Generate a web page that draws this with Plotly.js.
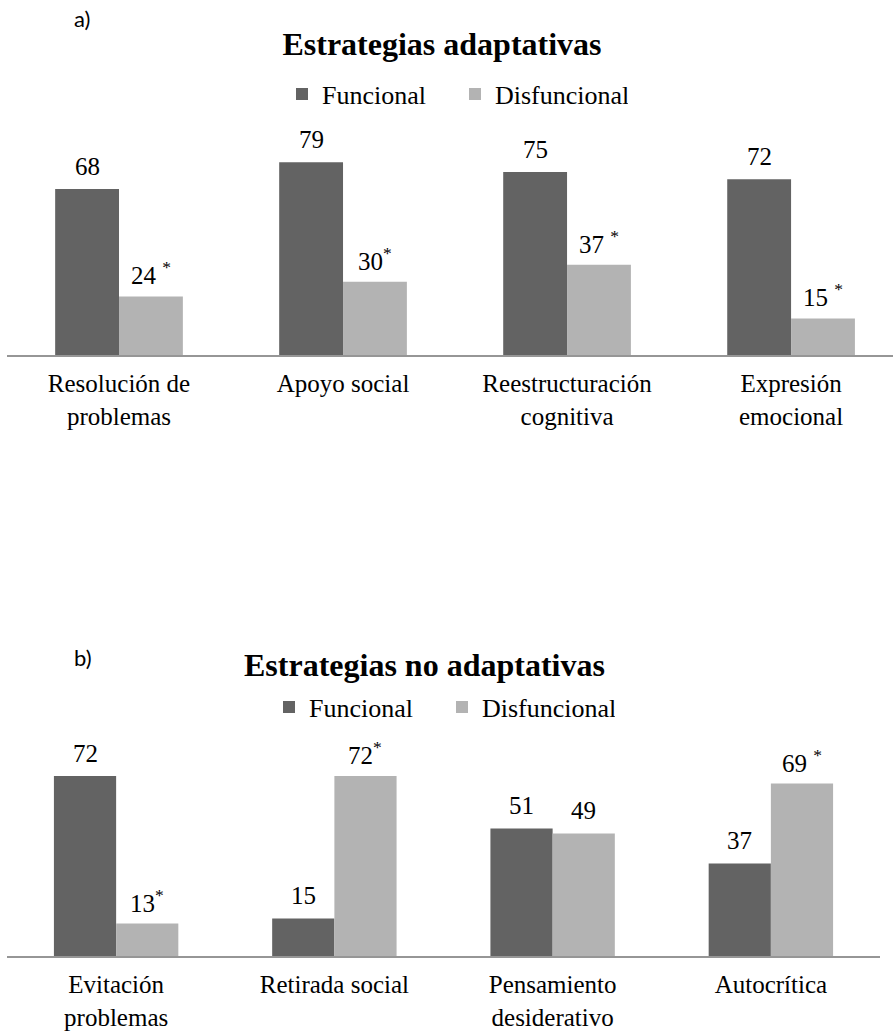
<!DOCTYPE html>
<html>
<head>
<meta charset="utf-8">
<script src="https://cdn.plot.ly/plotly-3.0.1.min.js"></script>
<style>
  html, body { margin: 0; padding: 0; background: #fff; }
  #chart { width: 893px; height: 1031px; }
</style>
</head>
<body>
<div id="chart"></div>
<script>
// ---- Data ----
const seriesNames = ['Funcional', 'Disfuncional'];

const categoriesA = ['Resolución de problemas', 'Apoyo social', 'Reestructuración cognitiva', 'Expresión emocional'];
const tickLabelsA = ['Resolución de<br>problemas', 'Apoyo social', 'Reestructuración<br>cognitiva', 'Expresión<br>emocional'];
const funcionalA = [68, 79, 75, 72];
const disfuncionalA = [24, 30, 37, 15];
const labelsFuncionalA = ['68', '79', '75', '72'];
const labelsDisfuncionalA = ['24 <sup>*</sup>', '30<sup>*</sup>', '37 <sup>*</sup>', '15 <sup>*</sup>'];

const categoriesB = ['Evitación problemas', 'Retirada social', 'Pensamiento desiderativo', 'Autocrítica'];
const tickLabelsB = ['Evitación<br>problemas', 'Retirada social', 'Pensamiento<br>desiderativo', 'Autocrítica'];
const funcionalB = [72, 15, 51, 37];
const disfuncionalB = [13, 72, 49, 69];
const labelsFuncionalB = ['72', '15', '51', '37'];
const labelsDisfuncionalB = ['13<sup>*</sup>', '72<sup>*</sup>', '49', '69 <sup>*</sup>'];

const titleA = 'Estrategias adaptativas';
const titleB = 'Estrategias no adaptativas';

// ---- Styling ----
const W = 893, H = 1031;
const darkGray = '#636363';
const lightGray = '#b3b3b3';
const serif = "'Liberation Serif', 'Times New Roman', serif";
const sans = "Lato, 'Open Sans', sans-serif";
const BARGAP = 0.43;
const px = (y) => 1 - y / H;   // pixel-from-top -> paper y

const traces = [
  { type: 'bar', name: seriesNames[0], x: categoriesA, y: funcionalA, xaxis: 'x', yaxis: 'y',
    marker: { color: darkGray }, legend: 'legend', hoverinfo: 'x+y' },
  { type: 'bar', name: seriesNames[1], x: categoriesA, y: disfuncionalA, xaxis: 'x', yaxis: 'y',
    marker: { color: lightGray }, legend: 'legend', hoverinfo: 'x+y' },
  { type: 'bar', name: seriesNames[0], x: categoriesB, y: funcionalB, xaxis: 'x2', yaxis: 'y2',
    marker: { color: darkGray }, legend: 'legend2', hoverinfo: 'x+y' },
  { type: 'bar', name: seriesNames[1], x: categoriesB, y: disfuncionalB, xaxis: 'x2', yaxis: 'y2',
    marker: { color: lightGray }, legend: 'legend2', hoverinfo: 'x+y' }
];

// value labels as annotations, positioned via the data axes
const offset = (1 - BARGAP) / 4;
const annotations = [];
function addLabels(values, texts, xref, yref, side) {
  values.forEach((v, i) => {
    annotations.push({
      x: i + side * offset, y: v, xref: xref, yref: yref,
      text: texts[i], showarrow: false, xanchor: 'center', yanchor: 'middle', yshift: 23,
      font: { family: serif, size: 25, color: '#000' }
    });
  });
}
addLabels(funcionalA, labelsFuncionalA, 'x', 'y', -1);
addLabels(disfuncionalA, labelsDisfuncionalA, 'x', 'y', 1);
addLabels(funcionalB, labelsFuncionalB, 'x2', 'y2', -1);
addLabels(disfuncionalB, labelsDisfuncionalB, 'x2', 'y2', 1);

// panel letters and second title
annotations.push({ text: 'a)', xref: 'paper', yref: 'paper', x: 72 / W, y: px(18), xanchor: 'left', yanchor: 'middle',
  showarrow: false, font: { family: sans, size: 22, color: '#000' } });
annotations.push({ text: 'b)', xref: 'paper', yref: 'paper', x: 72 / W, y: px(657), xanchor: 'left', yanchor: 'middle',
  showarrow: false, font: { family: sans, size: 22, color: '#000' } });
annotations.push({ text: '<b>' + titleB + '</b>', xref: 'paper', yref: 'paper', x: 424 / W, y: px(665), xanchor: 'center', yanchor: 'middle',
  showarrow: false, font: { family: serif, size: 32, color: '#000' } });

const xCommon = {
  type: 'category', showline: true, linecolor: '#969696', linewidth: 2,
  ticks: '', showgrid: false, zeroline: false, fixedrange: true,
  tickfont: { family: serif, size: 25, color: '#000' }, ticklabelstandoff: 5
};
const yCommon = { visible: false, showgrid: false, zeroline: false, range: [0, 100], fixedrange: true };

const legendCommon = {
  orientation: 'h', xanchor: 'center', yanchor: 'middle', bgcolor: 'rgba(0,0,0,0)',
  font: { family: serif, size: 26, color: '#000' }, entrywidth: 128, itemclick: false, itemdoubleclick: false
};

const layout = {
  width: W, height: H,
  margin: { l: 0, r: 0, t: 0, b: 0 },
  paper_bgcolor: '#fff', plot_bgcolor: '#fff',
  showlegend: true,
  barmode: 'group', bargap: BARGAP, bargroupgap: 0,
  title: { text: '<b>' + titleA + '</b>', x: 442 / W, xanchor: 'center', y: px(44), yanchor: 'middle',
    font: { family: serif, size: 32, color: '#000' } },
  xaxis: Object.assign({}, xCommon, { domain: [7 / W, 1], range: [-0.5, 3.455], anchor: 'y',
    tickvals: categoriesA, ticktext: tickLabelsA }),
  yaxis: Object.assign({}, yCommon, { domain: [px(355), px(111)], anchor: 'x' }),
  xaxis2: Object.assign({}, xCommon, { domain: [7 / W, 880 / W], range: [-0.5, 3.5], anchor: 'y2',
    tickvals: categoriesB, ticktext: tickLabelsB }),
  yaxis2: Object.assign({}, yCommon, { domain: [px(956), px(706)], anchor: 'x2' }),
  legend: Object.assign({}, legendCommon, { x: 455 / W, y: px(94) }),
  legend2: Object.assign({}, legendCommon, { x: 442 / W, y: px(707) }),
  annotations: annotations
};

Plotly.newPlot('chart', traces, layout, { displayModeBar: false, responsive: false });
</script>
</body>
</html>
